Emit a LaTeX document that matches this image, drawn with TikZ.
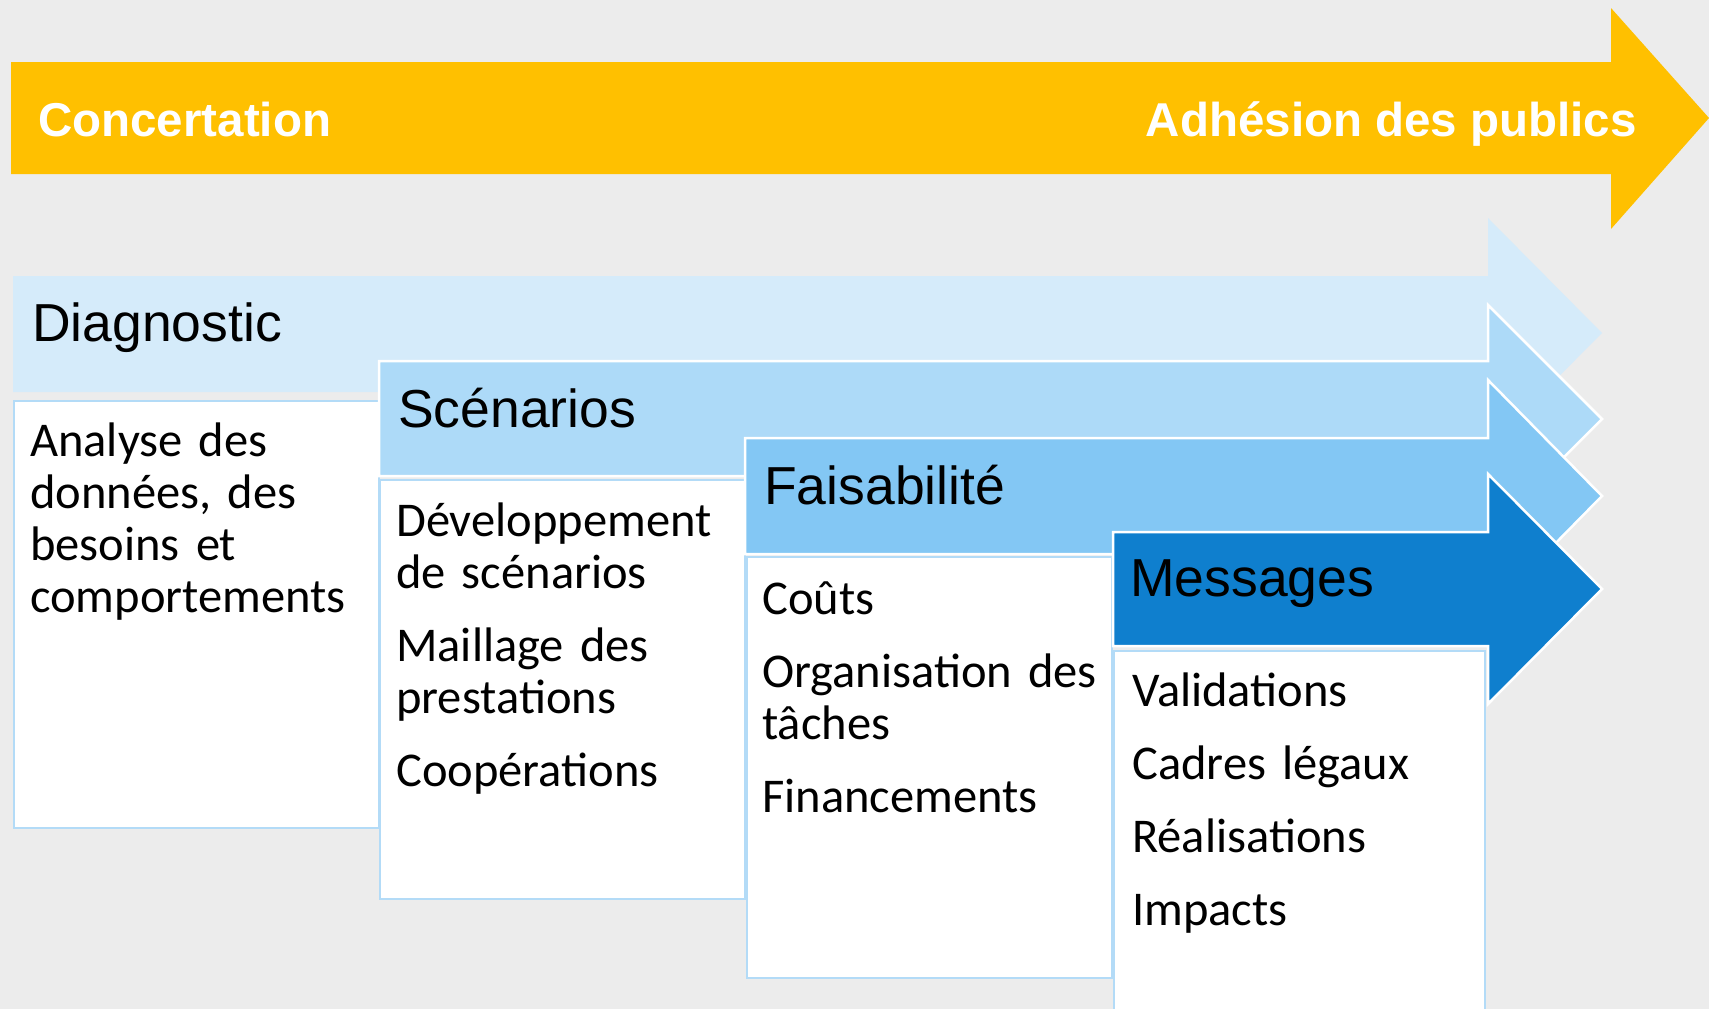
\documentclass[tikz,border=0pt]{standalone}
\usepackage{fontspec}
\setmainfont{Carlito}
\newfontfamily\headfont{Liberation Sans}

\definecolor{bggray}{HTML}{ECECEC}
\definecolor{gold}{HTML}{FFC000}
\definecolor{blueA}{HTML}{D5EBFA}
\definecolor{blueB}{HTML}{ADDAF8}
\definecolor{blueC}{HTML}{83C7F4}
\definecolor{blueD}{HTML}{0F7FCE}
\definecolor{listline}{HTML}{B3DBF7}

\begin{document}
\begin{tikzpicture}[x=1pt,y=-1pt,
    stage/.style={draw=white,line width=2.5pt,line join=miter},
    listbox/.style={fill=white,draw=listline,line width=2pt},
    phase/.style={anchor=base west,inner sep=0pt,font=\headfont\fontsize{53.5}{60}\selectfont},
    tasks/.style={anchor=base west,inner sep=0pt,text width=360pt,align=left,font=\fontsize{48.5}{52}\selectfont},
    banner/.style={inner sep=0pt,text=white,font=\headfont\bfseries\fontsize{47.5}{56}\selectfont}]
  \useasboundingbox (0,0) rectangle (1709,1009);
  \fill[bggray] (0,0) rectangle (1709,1009);

  % big arrow on top
  \fill[gold] (11,62) -- (1611,62) -- (1611,8) -- (1709,118) -- (1611,229) -- (1611,174) -- (11,174) -- cycle;
  \node[banner,anchor=base west] (concert) at (38,136) {Concertation};
  \node[banner,anchor=base east] (adhesion) at (1637,136) {Adhésion des publics};

  % the four stages
  \fill[blueA] (13,276) -- (1488,276) -- (1488,218) -- (1602,333) -- (1488,448) -- (1488,392) -- (13,392) -- cycle;
  \draw[listbox] (14,401) rectangle (379,828);
  \node[phase] (diagTitle) at (32,341) {Diagnostic};
  \node[tasks] (diagList) at (30,456) {Analyse des\\ données, des\\ besoins et\\ comportements};

  \draw[stage,fill=blueB] (379,361) -- (1488,361) -- (1488,305) -- (1602,419) -- (1488,533) -- (1488,476) -- (379,476) -- cycle;
  \draw[listbox] (380,480) rectangle (745,899);
  \node[phase] (scenTitle) at (398,427) {Scénarios};
  \node[tasks] (scenList) at (396,536) {Développement\\ de scénarios\\[21pt] Maillage des\\ prestations\\[21pt] Coopérations};

  \draw[stage,fill=blueC] (745,438) -- (1488,438) -- (1488,380) -- (1602,496) -- (1488,612) -- (1488,554) -- (745,554) -- cycle;
  \draw[listbox] (747,557) rectangle (1112,978);
  \node[phase] (faisTitle) at (764,504) {Faisabilité};
  \node[tasks] (faisList) at (762,614) {Coûts\\[21pt] Organisation des\\ tâches\\[21pt] Financements};

  \draw[stage,fill=blueD] (1113,532) -- (1488,532) -- (1488,474) -- (1602,589) -- (1488,704) -- (1488,646) -- (1113,646) -- cycle;
  \draw[listbox] (1114,651) rectangle (1485,1015);
  \node[phase] (messTitle) at (1130,596) {Messages};
  \node[tasks] (messList) at (1132,706) {Validations\\[21pt] Cadres légaux\\[21pt] Réalisations\\[21pt] Impacts};
\end{tikzpicture}
\end{document}
